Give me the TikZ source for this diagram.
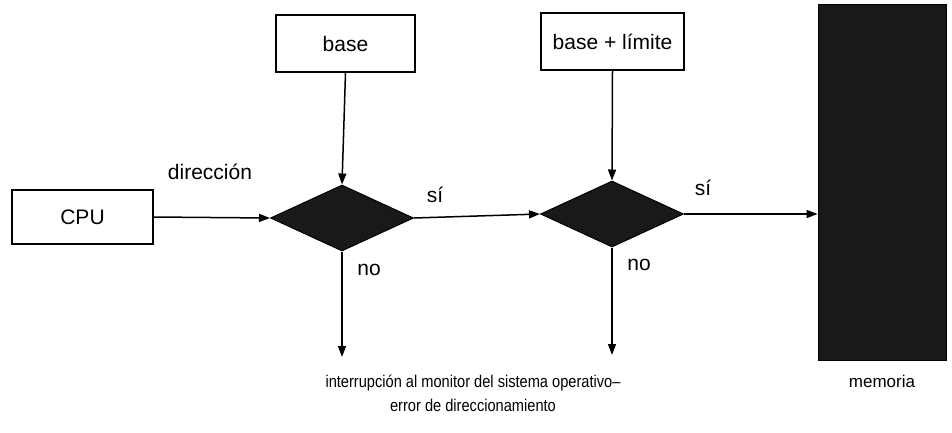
\documentclass[tikz,border=0pt]{standalone}
\usepackage{fontspec}
\setmainfont{Liberation Sans}
\usetikzlibrary{shapes.geometric,arrows.meta}
\tikzset{
  box/.style={draw, line width=1.3pt, inner sep=0pt, font=\fontsize{21}{25}\selectfont},
  decision/.style={diamond, draw, fill=black!90, line width=1pt, inner sep=0pt, minimum width=143pt, minimum height=66pt},
  conn/.style={line width=1.5pt, -{Triangle[length=11pt,width=8pt]}},
  lbl/.style={font=\fontsize{21}{25}\selectfont, inner sep=0pt},
  small/.style={font=\fontsize{17}{23}\selectfont, inner sep=0pt, align=center},
}
\begin{document}
\begin{tikzpicture}[x=1pt,y=-1pt]
\useasboundingbox (0,0) rectangle (952,432);
\node[box, minimum width=141pt, minimum height=54pt] (cpu) at (82.5,217) {CPU};
\node[box, minimum width=139pt, minimum height=57pt] (base) at (345.5,43.5) {base};
\node[box, minimum width=143pt, minimum height=57pt] (lim) at (612.5,41.5) {base + límite};
\node[decision] (d1) at (342,218) {};
\node[decision] (d2) at (612,214) {};
\node[draw, fill=black!90, line width=0.8pt, minimum width=128pt, minimum height=356pt, inner sep=0pt] (mem) at (882,182) {};
\coordinate (e1) at (342,357);
\coordinate (e2) at (612,355);
\draw[conn] (cpu.east) -- (d1.west);
\draw[conn] (base.south) -- (d1.north);
\draw[conn] (lim.south) -- (d2.north);
\draw[conn] (d1.east) -- (d2.west);
\draw[conn] (d2.east) -- (d2.east -| mem.west);
\draw[conn] (d1.south) -- (e1);
\draw[conn] (d2.south) -- (e2);
\node[lbl] (ldir) at (210,172) {dirección};
\node[lbl] (lsi1) at (435,195) {sí};
\node[lbl] (lsi2) at (703,188) {sí};
\node[lbl] (lno1) at (369,270) {no};
\node[lbl] (lno2) at (639,265) {no};
\node[small] (trap) at (473,395) {\scalebox{0.86}[1]{\begin{tabular}{@{}c@{}}interrupción al monitor del sistema operativo–\\[1pt]error de direccionamiento\end{tabular}}};
\node[small] (lmem) at (882,381) {memoria};
\end{tikzpicture}
\end{document}
